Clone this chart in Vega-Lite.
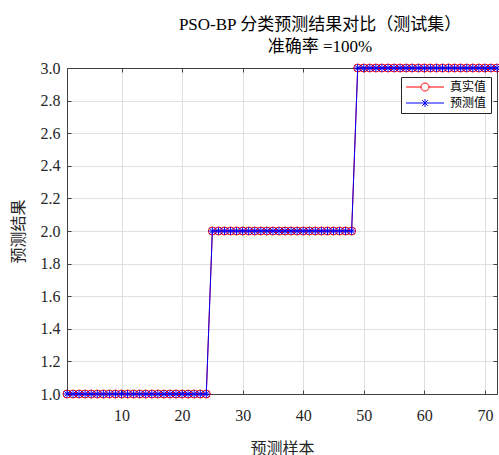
{
  "$schema": "https://vega.github.io/schema/vega-lite/v6.json",
  "width": 430,
  "height": 326,
  "autosize": {"type": "none"},
  "padding": {"left": 67, "top": 68, "right": 2, "bottom": 61},
  "background": "white",
  "title": {
    "text": ["PSO-BP 分类预测结果对比（测试集）", "准确率 =100%"],
    "font": "Liberation Serif, Noto Sans CJK SC",
    "fontSize": 17,
    "fontWeight": "normal",
    "color": "#000000",
    "lineHeight": 22,
    "anchor": "middle",
    "dx": 38,
    "offset": 4
  },
  "config": {
    "view": {"stroke": null},
    "font": "Liberation Serif, Noto Sans CJK SC",
    "axis": {
      "labelFont": "Liberation Serif, Noto Sans CJK SC",
      "labelFontSize": 16,
      "labelColor": "#262626",
      "titleFont": "Liberation Serif, Noto Sans CJK SC",
      "titleFontSize": 16,
      "titleFontWeight": "normal",
      "titleColor": "#262626",
      "domainColor": "#404040",
      "tickColor": "#404040",
      "gridColor": "#dfdfdf",
      "tickSize": -4
    },
    "legend": {
      "orient": "none",
      "legendX": 334,
      "legendY": 9,
      "strokeColor": "#262626",
      "fillColor": "white",
      "padding": 4,
      "labelFont": "Liberation Serif, Noto Sans CJK SC",
      "labelFontSize": 12,
      "labelColor": "#000000",
      "labelOffset": 33,
      "symbolSize": 100,
      "rowPadding": 4
    }
  },
  "data": {
    "values": [
      {"i": 1, "t": 1, "p": 1}, {"i": 2, "t": 1, "p": 1}, {"i": 3, "t": 1, "p": 1}, {"i": 4, "t": 1, "p": 1},
      {"i": 5, "t": 1, "p": 1}, {"i": 6, "t": 1, "p": 1}, {"i": 7, "t": 1, "p": 1}, {"i": 8, "t": 1, "p": 1},
      {"i": 9, "t": 1, "p": 1}, {"i": 10, "t": 1, "p": 1}, {"i": 11, "t": 1, "p": 1}, {"i": 12, "t": 1, "p": 1},
      {"i": 13, "t": 1, "p": 1}, {"i": 14, "t": 1, "p": 1}, {"i": 15, "t": 1, "p": 1}, {"i": 16, "t": 1, "p": 1},
      {"i": 17, "t": 1, "p": 1}, {"i": 18, "t": 1, "p": 1}, {"i": 19, "t": 1, "p": 1}, {"i": 20, "t": 1, "p": 1},
      {"i": 21, "t": 1, "p": 1}, {"i": 22, "t": 1, "p": 1}, {"i": 23, "t": 1, "p": 1}, {"i": 24, "t": 1, "p": 1},
      {"i": 25, "t": 2, "p": 2}, {"i": 26, "t": 2, "p": 2}, {"i": 27, "t": 2, "p": 2}, {"i": 28, "t": 2, "p": 2},
      {"i": 29, "t": 2, "p": 2}, {"i": 30, "t": 2, "p": 2}, {"i": 31, "t": 2, "p": 2}, {"i": 32, "t": 2, "p": 2},
      {"i": 33, "t": 2, "p": 2}, {"i": 34, "t": 2, "p": 2}, {"i": 35, "t": 2, "p": 2}, {"i": 36, "t": 2, "p": 2},
      {"i": 37, "t": 2, "p": 2}, {"i": 38, "t": 2, "p": 2}, {"i": 39, "t": 2, "p": 2}, {"i": 40, "t": 2, "p": 2},
      {"i": 41, "t": 2, "p": 2}, {"i": 42, "t": 2, "p": 2}, {"i": 43, "t": 2, "p": 2}, {"i": 44, "t": 2, "p": 2},
      {"i": 45, "t": 2, "p": 2}, {"i": 46, "t": 2, "p": 2}, {"i": 47, "t": 2, "p": 2}, {"i": 48, "t": 2, "p": 2},
      {"i": 49, "t": 3, "p": 3}, {"i": 50, "t": 3, "p": 3}, {"i": 51, "t": 3, "p": 3}, {"i": 52, "t": 3, "p": 3},
      {"i": 53, "t": 3, "p": 3}, {"i": 54, "t": 3, "p": 3}, {"i": 55, "t": 3, "p": 3}, {"i": 56, "t": 3, "p": 3},
      {"i": 57, "t": 3, "p": 3}, {"i": 58, "t": 3, "p": 3}, {"i": 59, "t": 3, "p": 3}, {"i": 60, "t": 3, "p": 3},
      {"i": 61, "t": 3, "p": 3}, {"i": 62, "t": 3, "p": 3}, {"i": 63, "t": 3, "p": 3}, {"i": 64, "t": 3, "p": 3},
      {"i": 65, "t": 3, "p": 3}, {"i": 66, "t": 3, "p": 3}, {"i": 67, "t": 3, "p": 3}, {"i": 68, "t": 3, "p": 3},
      {"i": 69, "t": 3, "p": 3}, {"i": 70, "t": 3, "p": 3}, {"i": 71, "t": 3, "p": 3}, {"i": 72, "t": 3, "p": 3}
    ]
  },
  "layer": [
    {
      "mark": {"type": "line", "strokeWidth": 1},
      "encoding": {
        "x": {"field": "i", "type": "quantitative", "scale": {"domain": [1, 72], "nice": false, "zero": false},
          "axis": {"orient": "bottom", "values": [10, 20, 30, 40, 50, 60, 70], "title": "预测样本", "titlePadding": 17, "labelPadding": 17, "grid": true}},
        "y": {"field": "t", "type": "quantitative", "scale": {"domain": [1, 3], "nice": false, "zero": false},
          "axis": {"orient": "left", "values": [1, 1.2, 1.4, 1.6, 1.8, 2, 2.2, 2.4, 2.6, 2.8, 3], "format": ".1f", "title": "预测结果", "titlePadding": 14, "labelPadding": 11, "grid": true}},
        "color": {"datum": "真实值", "type": "nominal",
          "scale": {"domain": ["真实值", "预测值"], "range": ["#ff0000", "#0000ff"]},
          "legend": {"title": null, "encode": {"symbols": {"update": {
            "shape": {"signal": "datum.value === '真实值' ? 'M-5,0L10,0M18,0L33,0M10,0A4,4 0 1,1 18,0A4,4 0 1,1 10,0' : 'M-5,0L33,0M14,-4L14,4M11.2,-2.8L16.8,2.8M11.2,2.8L16.8,-2.8'"},
            "size": {"value": 4},
            "strokeWidth": {"value": 1},
            "fill": {"value": "transparent"}
          }}}}}
      }
    },
    {
      "mark": {"type": "point", "shape": "circle", "filled": false, "size": 64, "strokeWidth": 1, "opacity": 1},
      "encoding": {
        "x": {"field": "i", "type": "quantitative", "axis": null},
        "y": {"field": "t", "type": "quantitative", "axis": null},
        "color": {"datum": "真实值", "type": "nominal"}
      }
    },
    {
      "mark": {"type": "line", "strokeWidth": 1},
      "encoding": {
        "x": {"field": "i", "type": "quantitative", "axis": null},
        "y": {"field": "p", "type": "quantitative", "axis": null},
        "color": {"datum": "预测值", "type": "nominal"}
      }
    },
    {
      "mark": {"type": "point", "shape": "M-1,0L1,0M0,-1L0,1M-0.7,-0.7L0.7,0.7M-0.7,0.7L0.7,-0.7", "filled": false, "size": 64, "strokeWidth": 1, "opacity": 1},
      "encoding": {
        "x": {"field": "i", "type": "quantitative",
          "axis": {"orient": "top", "values": [10, 20, 30, 40, 50, 60, 70], "labels": false, "title": null, "grid": false}},
        "y": {"field": "p", "type": "quantitative",
          "axis": {"orient": "right", "values": [1, 1.2, 1.4, 1.6, 1.8, 2, 2.2, 2.4, 2.6, 2.8, 3], "labels": false, "title": null, "grid": false}},
        "color": {"datum": "预测值", "type": "nominal"}
      }
    }
  ],
  "resolve": {"axis": {"x": "independent", "y": "independent"}}
}
